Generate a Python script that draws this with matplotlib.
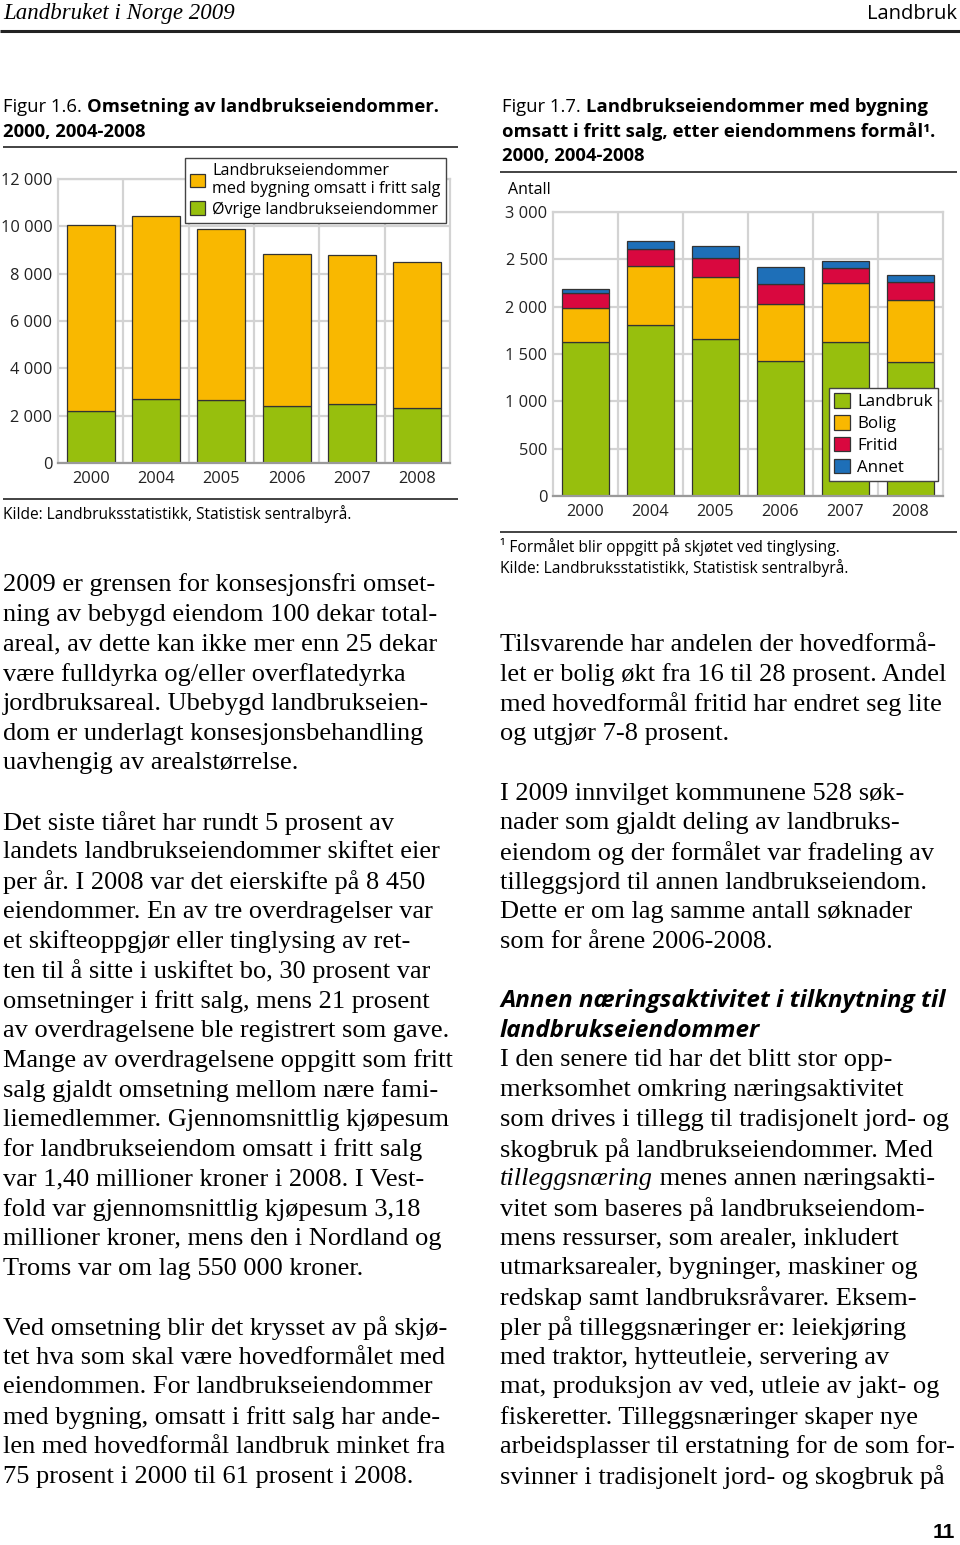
import matplotlib
matplotlib.use("Agg")
import matplotlib.pyplot as plt
from matplotlib.ticker import FuncFormatter, FixedLocator
import numpy as np

plt.rcParams['font.family'] = ['Open Sans', 'DejaVu Sans']

# data, figur 1.6
years = ['2000', '2004', '2005', '2006', '2007', '2008']
ovrige = [2190, 2720, 2670, 2410, 2510, 2340]
fritt_salg = [7870, 7730, 7200, 6430, 6260, 6140]

# data, figur 1.7
landbruk = [1627, 1810, 1658, 1426, 1627, 1419]
bolig = [359, 623, 655, 599, 627, 648]
fritid = [155, 173, 201, 214, 158, 190]
annet = [46, 88, 127, 176, 74, 74]

ORANGE = '#F9B800'
GREEN = '#97BF0D'
RED = '#D9083F'
BLUE = '#1E6FB8'
GRID = '#d3d3d3'
EDGE = '#333333'

left_text = [
    ["2009 er grensen for konsesjonsfri omset-",
     "ning av bebygd eiendom 100 dekar total-",
     "areal, av dette kan ikke mer enn 25 dekar",
     "være fulldyrka og/eller overflatedyrka",
     "jordbruksareal. Ubebygd landbrukseien-",
     "dom er underlagt konsesjonsbehandling",
     "uavhengig av arealstørrelse."],
    ["Det siste tiåret har rundt 5 prosent av",
     "landets landbrukseiendommer skiftet eier",
     "per år. I 2008 var det eierskifte på 8 450",
     "eiendommer. En av tre overdragelser var",
     "et skifteoppgjør eller tinglysing av ret-",
     "ten til å sitte i uskiftet bo, 30 prosent var",
     "omsetninger i fritt salg, mens 21 prosent",
     "av overdragelsene ble registrert som gave.",
     "Mange av overdragelsene oppgitt som fritt",
     "salg gjaldt omsetning mellom nære fami-",
     "liemedlemmer. Gjennomsnittlig kjøpesum",
     "for landbrukseiendom omsatt i fritt salg",
     "var 1,40 millioner kroner i 2008. I Vest-",
     "fold var gjennomsnittlig kjøpesum 3,18",
     "millioner kroner, mens den i Nordland og",
     "Troms var om lag 550 000 kroner."],
    ["Ved omsetning blir det krysset av på skjø-",
     "tet hva som skal være hovedformålet med",
     "eiendommen. For landbrukseiendommer",
     "med bygning, omsatt i fritt salg har ande-",
     "len med hovedformål landbruk minket fra",
     "75 prosent i 2000 til 61 prosent i 2008."],
]

right_text_1 = [
    ["Tilsvarende har andelen der hovedformå-",
     "let er bolig økt fra 16 til 28 prosent. Andel",
     "med hovedformål fritid har endret seg lite",
     "og utgjør 7-8 prosent."],
    ["I 2009 innvilget kommunene 528 søk-",
     "nader som gjaldt deling av landbruks-",
     "eiendom og der formålet var fradeling av",
     "tilleggsjord til annen landbrukseiendom.",
     "Dette er om lag samme antall søknader",
     "som for årene 2006-2008."],
]
heading = ["Annen næringsaktivitet i tilknytning til", "landbrukseiendommer"]
right_text_2 = [
    "I den senere tid har det blitt stor opp-",
    "merksomhet omkring næringsaktivitet",
    "som drives i tillegg til tradisjonelt jord- og",
    "skogbruk på landbrukseiendommer. Med",
    None,
    "vitet som baseres på landbrukseiendom-",
    "mens ressurser, som arealer, inkludert",
    "utmarksarealer, bygninger, maskiner og",
    "redskap samt landbruksråvarer. Eksem-",
    "pler på tilleggsnæringer er: leiekjøring",
    "med traktor, hytteutleie, servering av",
    "mat, produksjon av ved, utleie av jakt- og",
    "fiskeretter. Tilleggsnæringer skaper nye",
    "arbeidsplasser til erstatning for de som for-",
    "svinner i tradisjonelt jord- og skogbruk på",
]

W, H = 960, 1545
fig = plt.figure(figsize=(W / 100, H / 100), dpi=100)
page = fig.add_axes([0, 0, 1, 1])
page.set_xlim(0, W)
page.set_ylim(H, 0)
page.axis('off')

SERIF = ['Liberation Serif', 'DejaVu Serif']
SANS = ['Open Sans', 'DejaVu Sans']
BODY = 19
LINE = 29.72
TITLE = 13.3
SMALL = 11.2


def run(x, y, parts, size, va='center'):
    # parts: list of (text, weight, style, family)
    prev = None
    for txt, weight, style, family in parts:
        if prev is None:
            prev = page.text(x, y, txt, fontsize=size, fontweight=weight,
                             fontstyle=style, family=family, va=va, ha='left')
        else:
            prev = page.annotate(txt, xy=(1, 0), xycoords=prev, va='bottom', ha='left',
                                 fontsize=size, fontweight=weight, fontstyle=style,
                                 family=family, annotation_clip=False)
    return prev


def hline(x0, x1, y, lw=1.2, color='#222222'):
    page.plot([x0, x1], [y, y], color=color, lw=lw, solid_capstyle='butt')


def fmt(v, pos):
    return f"{int(v):,}".replace(",", " ")


# header
page.text(3, 14, "Landbruket i Norge 2009", fontsize=16.5, fontstyle='italic',
          family=SERIF, va='center', ha='left')
page.text(957, 14, "Landbruk", fontsize=14.5, va='center', ha='right')
hline(0, 960, 31, lw=2.2)

# figure titles
run(3, 107, [("Figur 1.6. ", 'normal', 'normal', SANS),
             ("Omsetning av landbrukseiendommer.", 'bold', 'normal', SANS)], TITLE)
run(3, 132, [("2000, 2004-2008", 'bold', 'normal', SANS)], TITLE)
hline(3, 458, 147)

run(502, 107, [("Figur 1.7. ", 'normal', 'normal', SANS),
               ("Landbrukseiendommer med bygning", 'bold', 'normal', SANS)], TITLE)
run(502, 132, [("omsatt i fritt salg, etter eiendommens formål¹.", 'bold', 'normal', SANS)], TITLE)
run(502, 156, [("2000, 2004-2008", 'bold', 'normal', SANS)], TITLE)
hline(500, 957, 172)


def setup(ax, ymax, step):
    x = np.arange(len(years))
    ax.set_xlim(-0.5, len(years) - 0.5)
    ax.set_ylim(0, ymax)
    ax.set_xticks(x)
    ax.set_xticklabels(years)
    ax.xaxis.set_minor_locator(FixedLocator(x[:-1] + 0.5))
    ax.yaxis.set_major_locator(FixedLocator(np.arange(0, ymax + 1, step)))
    ax.yaxis.set_major_formatter(FuncFormatter(fmt))
    ax.grid(True, which='major', axis='y', color=GRID, lw=1.6)
    ax.grid(True, which='minor', axis='x', color=GRID, lw=1.6)
    ax.set_axisbelow(True)
    ax.tick_params(which='both', length=0, labelsize=11.8, colors='#222222')
    ax.tick_params(axis='x', pad=6)
    ax.tick_params(axis='y', pad=4)
    for s in ax.spines.values():
        s.set_color(GRID)
        s.set_linewidth(1.6)
    ax.spines['bottom'].set_color('#9a9a9a')
    return x


def px_axes(l, t, r, b):
    return fig.add_axes([l / W, 1 - b / H, (r - l) / W, (b - t) / H])


# figur 1.6
ax1 = px_axes(58, 179, 450, 463)
x = setup(ax1, 12000, 2000)
b1 = ax1.bar(x, ovrige, 0.73, color=GREEN, edgecolor=EDGE, lw=0.9,
             label='Øvrige landbrukseiendommer')
b2 = ax1.bar(x, fritt_salg, 0.73, bottom=ovrige, color=ORANGE, edgecolor=EDGE, lw=0.9,
             label='Landbrukseiendommer\nmed bygning omsatt i fritt salg')
leg1 = fig.legend([b2, b1], [b2.get_label(), b1.get_label()],
                  loc='upper left', bbox_to_anchor=(185 / W, 1 - 158 / H),
                  fontsize=11.6, frameon=True, fancybox=False, edgecolor='#444444',
                  framealpha=1, borderpad=0.3, handlelength=0.95, handleheight=0.95,
                  handletextpad=0.45, labelspacing=0.25, borderaxespad=0)
leg1.get_frame().set_linewidth(1.0)
hline(3, 458, 499)
page.text(3, 514, "Kilde: Landbruksstatistikk, Statistisk sentralbyrå.",
          fontsize=SMALL, va='center', ha='left')

# figur 1.7
ax2 = px_axes(553, 212, 943, 496)
x = setup(ax2, 3000, 500)
bottom = np.zeros(len(years))
handles = []
for vals, col, lab in [(landbruk, GREEN, 'Landbruk'), (bolig, ORANGE, 'Bolig'),
                       (fritid, RED, 'Fritid'), (annet, BLUE, 'Annet')]:
    h = ax2.bar(x, vals, 0.73, bottom=bottom, color=col, edgecolor=EDGE, lw=0.9, label=lab)
    bottom = bottom + np.array(vals)
    handles.append(h)
leg2 = ax2.legend(handles=handles, loc='upper left',
                  bbox_to_anchor=(829 / W, 1 - 388 / H), bbox_transform=fig.transFigure,
                  fontsize=12.2, frameon=True, fancybox=False, edgecolor='#444444',
                  framealpha=1, borderpad=0.3, handlelength=0.95, handleheight=0.95,
                  handletextpad=0.4, labelspacing=0.28, borderaxespad=0)
leg2.get_frame().set_linewidth(1.0)
page.text(508, 190, "Antall", fontsize=11.5, va='center', ha='left')
hline(500, 957, 532)
page.text(500, 547, "¹ Formålet blir oppgitt på skjøtet ved tinglysing.",
          fontsize=SMALL, va='center', ha='left')
page.text(500, 568, "Kilde: Landbruksstatistikk, Statistisk sentralbyrå.",
          fontsize=SMALL, va='center', ha='left')

# body text, left column
y = 585
for para in left_text:
    for line in para:
        page.text(3, y, line, fontsize=BODY, family=SERIF, va='center', ha='left')
        y += LINE
    y += LINE

# body text, right column
y = 645
for para in right_text_1:
    for line in para:
        page.text(500, y, line, fontsize=BODY, family=SERIF, va='center', ha='left')
        y += LINE
    y += LINE
y = 1001
for line in heading:
    page.text(500, y, line, fontsize=17.5, fontweight='bold', fontstyle='italic',
              family=SANS, va='center', ha='left')
    y += LINE
for line in right_text_2:
    if line is None:
        run(500, y, [("tilleggsnæring", 'normal', 'italic', SERIF),
                     (" menes annen næringsakti-", 'normal', 'normal', SERIF)], BODY)
    else:
        page.text(500, y, line, fontsize=BODY, family=SERIF, va='center', ha='left')
    y += LINE

page.text(955, 1532, "11", fontsize=15, fontweight='bold', family=['Liberation Sans', 'DejaVu Sans'],
          va='center', ha='right')

fig.savefig("out.png", dpi=100)
